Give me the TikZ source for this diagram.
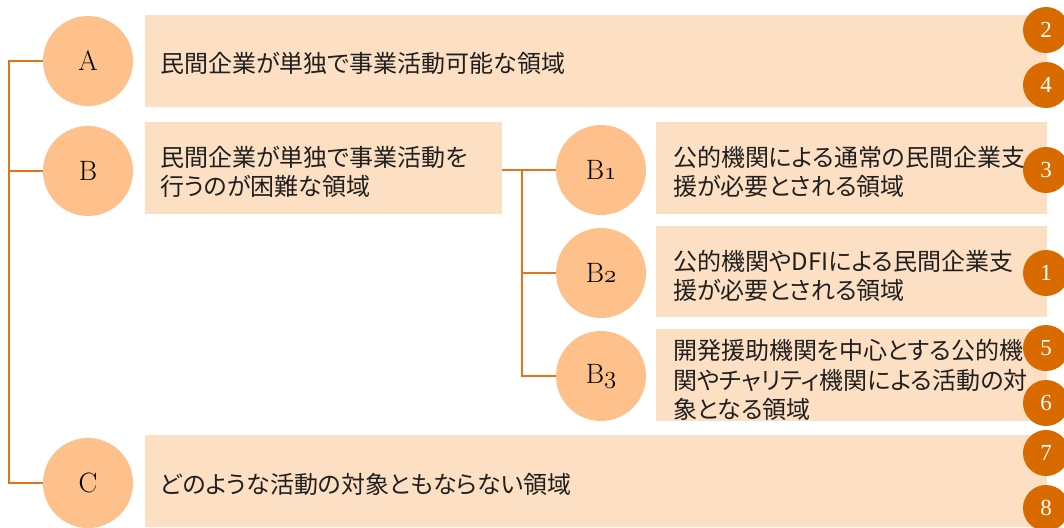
\documentclass[tikz,border=0pt]{standalone}
\usepackage{fontspec}
\newfontfamily\jp[RawFeature=+palt]{Noto Sans CJK JP}
\newfontfamily\numfont{Liberation Serif}
\definecolor{boxfill}{HTML}{FDE0C4}
\definecolor{circfill}{HTML}{FFC18B}
\definecolor{numfill}{HTML}{D86A00}
\definecolor{linec}{HTML}{E5731A}
\tikzset{
  box/.style={fill=boxfill, draw=none, inner sep=0pt, rectangle},
  bigc/.style={circle, fill=circfill, draw=none, minimum size=90pt, inner sep=0pt,
    font=\fontsize{28}{30}\selectfont},
  numc/.style={circle, fill=numfill, draw=none, minimum size=46pt, inner sep=0pt,
    text=white, font=\numfont\fontsize{23}{24}\selectfont},
  txt/.style={anchor=west, align=left, inner sep=0pt,
    font=\jp\fontsize{24}{29.5}\selectfont, text=black!88},
  conn/.style={draw=linec, line width=1.5pt}
}
\begin{document}
\begin{tikzpicture}[x=1pt,y=-1pt]
\useasboundingbox (0,0) rectangle (1064,527);
% boxes
\node[box, minimum width=902pt, minimum height=92pt] (rA) at (596,61) {};
\node[box, minimum width=357pt, minimum height=92pt] (rB) at (323.5,168) {};
\node[box, minimum width=391pt, minimum height=92pt] (rB1) at (851.5,168) {};
\node[box, minimum width=391pt, minimum height=91pt] (rB2) at (851.5,271.5) {};
\node[box, minimum width=391pt, minimum height=92pt] (rB3) at (851.5,375) {};
\node[box, minimum width=902pt, minimum height=92pt] (rC) at (596,481) {};
% texts
\node[txt] (tA) at (160,63) {民間企業が単独で事業活動可能な領域};
\node[txt] (tB) at (160,172) {民間企業が単独で事業活動を\\行うのが困難な領域};
\node[txt] (tB1) at (673,172) {公的機関による通常の民間企業支\\援が必要とされる領域};
\node[txt] (tB2) at (673,276) {公的機関やDFIによる民間企業支\\援が必要とされる領域};
\node[txt] (tB3) at (673,380) {開発援助機関を中心とする公的機\\関やチャリティ機関による活動の対\\象となる領域};
\node[txt] (tC) at (160,484) {どのような活動の対象ともならない領域};
% big circles
\node[bigc] (A) at (88,61) {A};
\node[bigc] (B) at (88,171) {B};
\node[bigc] (C) at (88,483) {C};
\node[bigc] (B1) at (601,170) {B$\mathnormal{1}$};
\node[bigc] (B2) at (601,273) {B$\mathnormal{2}$};
\node[bigc] (B3) at (601,376) {B$\mathnormal{3}$};
% connectors
\coordinate (trunk) at (9,61);
\coordinate (btrunk) at (522,170);
\draw[conn] (A.west) -- (A.west -| trunk) -- (C.west -| trunk) -- (C.west);
\draw[conn] (B.west -| trunk) -- (B.west);
\draw[conn] (rB.east |- B1.west) -- (B1.west);
\draw[conn] (btrunk) -- (B3.west -| btrunk) -- (B3.west);
\draw[conn] (B2.west -| btrunk) -- (B2.west);
% numbered circles
\node[numc] (n2) at (1046,30) {2};
\node[numc] (n4) at (1046,85) {4};
\node[numc] (n3) at (1046,170) {3};
\node[numc] (n1) at (1046,273) {1};
\node[numc] (n5) at (1046,348) {5};
\node[numc] (n6) at (1046,403) {6};
\node[numc] (n7) at (1046,453) {7};
\node[numc] (n8) at (1046,508) {8};
\end{tikzpicture}
\end{document}
